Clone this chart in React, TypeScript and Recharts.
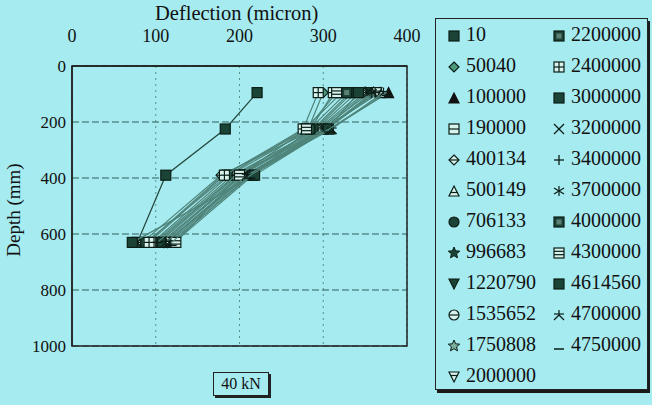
import { ScatterChart, Scatter, XAxis, YAxis, CartesianGrid, ReferenceArea } from "recharts";

// load cycles (legend labels)
const cycles = [
  "10", "50040", "100000", "190000", "400134", "500149", "706133", "996683",
  "1220790", "1535652", "1750808", "2000000", "2200000", "2400000", "3000000",
  "3200000", "3400000", "3700000", "4000000", "4300000", "4614560", "4700000", "4750000",
];

// sensor depths (mm)
const depths = [95, 225, 390, 630];

// deflection (micron) at each depth, one value per load cycle
const defl95 = [221, 300, 378, 312, 335, 368, 340, 350, 356, 346, 360, 364, 322, 294, 332, 352, 362, 358, 328, 316, 342, 372, 376];
const defl225 = [183, 282, 308, 285, 290, 300, 292, 296, 298, 294, 302, 304, 278, 276, 288, 300, 303, 305, 284, 280, 306, 310, 307];
const defl390 = [112, 180, 214, 188, 178, 200, 195, 198, 202, 192, 206, 208, 186, 182, 204, 210, 196, 212, 216, 200, 218, 209, 213];
const defl630 = [78, 90, 118, 96, 84, 108, 100, 104, 110, 98, 112, 114, 88, 92, 106, 116, 102, 120, 122, 124, 72, 112, 119];

const markerKinds = [
  "sq", "diamond", "tri", "sqH", "diamondH", "triH", "circle", "star",
  "triDown", "circleH", "starO", "triDownH", "sqDot", "sqGrid", "sq",
  "cross", "plus", "asterisk", "sqDot", "sqH2", "sq", "ystar", "dash",
];

const xTicks = [0, 100, 200, 300, 400];
const yTicks = [0, 200, 400, 600, 800, 1000];

const BG = "#a6ebf0";
const DARK = "#1c4436";
const EDGE = "#0b1d16";
const LIGHT = "#d8f3ee";
const FONT = "'Liberation Serif', 'DejaVu Serif', serif";

const starPts = (cx: number, cy: number, r: number) => {
  const pts: string[] = [];
  for (let i = 0; i < 10; i++) {
    const a = -Math.PI / 2 + (i * Math.PI) / 5;
    const rr = i % 2 === 0 ? r : r * 0.45;
    pts.push(`${cx + rr * Math.cos(a)},${cy + rr * Math.sin(a)}`);
  }
  return pts.join(" ");
};

const Marker = ({ kind, cx, cy, s = 5 }: { kind: string; cx: number; cy: number; s?: number }) => {
  const sw = 1.2;
  switch (kind) {
    case "sq":
      return <rect x={cx - s} y={cy - s} width={2 * s} height={2 * s} fill={DARK} stroke={EDGE} strokeWidth={sw} />;
    case "sqDot":
      return (
        <g>
          <rect x={cx - s} y={cy - s} width={2 * s} height={2 * s} fill={DARK} stroke={EDGE} strokeWidth={sw} />
          <rect x={cx - s / 2} y={cy - s / 2} width={s} height={s} fill="#5d7f74" />
        </g>
      );
    case "sqH":
      return (
        <g>
          <rect x={cx - s} y={cy - s} width={2 * s} height={2 * s} fill={LIGHT} stroke={EDGE} strokeWidth={sw} />
          <line x1={cx - s} x2={cx + s} y1={cy} y2={cy} stroke={EDGE} strokeWidth={sw} />
        </g>
      );
    case "sqH2":
      return (
        <g>
          <rect x={cx - s} y={cy - s} width={2 * s} height={2 * s} fill={LIGHT} stroke={EDGE} strokeWidth={sw} />
          <line x1={cx - s} x2={cx + s} y1={cy - s / 3} y2={cy - s / 3} stroke={EDGE} strokeWidth={sw} />
          <line x1={cx - s} x2={cx + s} y1={cy + s / 3} y2={cy + s / 3} stroke={EDGE} strokeWidth={sw} />
        </g>
      );
    case "sqGrid":
      return (
        <g>
          <rect x={cx - s} y={cy - s} width={2 * s} height={2 * s} fill={LIGHT} stroke={EDGE} strokeWidth={sw} />
          <line x1={cx - s} x2={cx + s} y1={cy} y2={cy} stroke={EDGE} strokeWidth={sw} />
          <line x1={cx} x2={cx} y1={cy - s} y2={cy + s} stroke={EDGE} strokeWidth={sw} />
        </g>
      );
    case "diamond":
      return <polygon points={`${cx},${cy - s} ${cx + s},${cy} ${cx},${cy + s} ${cx - s},${cy}`} fill="#4a9a7c" stroke={EDGE} strokeWidth={sw} />;
    case "diamondH":
      return (
        <g>
          <polygon points={`${cx},${cy - s} ${cx + s},${cy} ${cx},${cy + s} ${cx - s},${cy}`} fill={LIGHT} stroke={EDGE} strokeWidth={sw} />
          <line x1={cx - s} x2={cx + s} y1={cy} y2={cy} stroke={EDGE} strokeWidth={sw} />
        </g>
      );
    case "tri":
      return <polygon points={`${cx},${cy - s} ${cx + s},${cy + s} ${cx - s},${cy + s}`} fill="#111" stroke="#111" strokeWidth={sw} />;
    case "triH":
      return (
        <g>
          <polygon points={`${cx},${cy - s} ${cx + s},${cy + s} ${cx - s},${cy + s}`} fill={LIGHT} stroke={EDGE} strokeWidth={sw} />
          <line x1={cx - s * 0.7} x2={cx + s * 0.7} y1={cy + s * 0.3} y2={cy + s * 0.3} stroke={EDGE} strokeWidth={sw} />
        </g>
      );
    case "triDown":
      return <polygon points={`${cx - s},${cy - s} ${cx + s},${cy - s} ${cx},${cy + s}`} fill={DARK} stroke={EDGE} strokeWidth={sw} />;
    case "triDownH":
      return (
        <g>
          <polygon points={`${cx - s},${cy - s} ${cx + s},${cy - s} ${cx},${cy + s}`} fill={LIGHT} stroke={EDGE} strokeWidth={sw} />
          <line x1={cx - s * 0.7} x2={cx + s * 0.7} y1={cy - s * 0.3} y2={cy - s * 0.3} stroke={EDGE} strokeWidth={sw} />
        </g>
      );
    case "circle":
      return <circle cx={cx} cy={cy} r={s} fill={DARK} stroke={EDGE} strokeWidth={sw} />;
    case "circleH":
      return (
        <g>
          <circle cx={cx} cy={cy} r={s} fill={LIGHT} stroke={EDGE} strokeWidth={sw} />
          <line x1={cx - s} x2={cx + s} y1={cy} y2={cy} stroke={EDGE} strokeWidth={sw} />
        </g>
      );
    case "star":
      return <polygon points={starPts(cx, cy, s + 1)} fill={DARK} stroke={EDGE} strokeWidth={1} />;
    case "starO":
      return <polygon points={starPts(cx, cy, s + 1)} fill="#7cae9c" stroke={EDGE} strokeWidth={1} />;
    case "cross":
      return (
        <g stroke={EDGE} strokeWidth={1.3}>
          <line x1={cx - s} x2={cx + s} y1={cy - s} y2={cy + s} />
          <line x1={cx - s} x2={cx + s} y1={cy + s} y2={cy - s} />
        </g>
      );
    case "plus":
      return (
        <g stroke={EDGE} strokeWidth={1.3}>
          <line x1={cx - s} x2={cx + s} y1={cy} y2={cy} />
          <line x1={cx} x2={cx} y1={cy - s} y2={cy + s} />
        </g>
      );
    case "asterisk":
      return (
        <g stroke={EDGE} strokeWidth={1.2}>
          <line x1={cx} x2={cx} y1={cy - s} y2={cy + s} />
          <line x1={cx - s} x2={cx + s} y1={cy - s * 0.6} y2={cy + s * 0.6} />
          <line x1={cx - s} x2={cx + s} y1={cy + s * 0.6} y2={cy - s * 0.6} />
        </g>
      );
    case "ystar":
      return (
        <g stroke={EDGE} strokeWidth={1.2}>
          <line x1={cx - s} x2={cx + s} y1={cy - s * 0.2} y2={cy - s * 0.2} />
          <line x1={cx} x2={cx} y1={cy - s} y2={cy} />
          <line x1={cx} x2={cx - s} y1={cy} y2={cy + s} />
          <line x1={cx} x2={cx + s} y1={cy} y2={cy + s} />
        </g>
      );
    case "dash":
      return <line x1={cx - s} x2={cx + s} y1={cy + s * 0.6} y2={cy + s * 0.6} stroke={EDGE} strokeWidth={1.5} />;
    default:
      return <circle cx={cx} cy={cy} r={s} fill={DARK} />;
  }
};

const seriesData = cycles.map((name, i) => ({
  name,
  kind: markerKinds[i],
  points: [defl95[i], defl225[i], defl390[i], defl630[i]].map((d, j) => ({ x: d, y: depths[j] })),
}));

export default function App() {
  return (
    <div style={{ position: "absolute", left: 0, top: 0, width: 652, height: 405, background: BG, fontFamily: FONT, color: "#111", overflow: "hidden" }}>
      <ScatterChart width={652} height={405} margin={{ top: 36, right: 245, bottom: 59, left: 12 }}>
        <CartesianGrid horizontal={false} vertical={true} strokeDasharray="2 4" stroke="#5a8f8c" />
        <CartesianGrid horizontal={true} vertical={false} strokeDasharray="7 3" stroke="#2f5f5c" />
        <XAxis
          type="number"
          dataKey="x"
          orientation="top"
          domain={[0, 400]}
          ticks={xTicks}
          height={30}
          tickSize={0}
          tickMargin={24}
          axisLine={{ stroke: "#222", strokeWidth: 1.5 }}
          tick={{ fontSize: 18, fill: "#111", fontFamily: FONT }}
        />
        <YAxis
          type="number"
          dataKey="y"
          domain={[0, 1000]}
          reversed
          ticks={yTicks}
          width={60}
          tickSize={0}
          tickMargin={6}
          axisLine={{ stroke: "#222", strokeWidth: 1.5 }}
          tick={{ fontSize: 17, fill: "#111", fontFamily: FONT }}
        />
        <ReferenceArea x1={0} x2={400} y1={0} y2={1000} fill="none" stroke="#222" strokeWidth={1.5} ifOverflow="visible" />
        {seriesData.map((s, i) => (
          <Scatter
            key={s.name}
            name={s.name}
            data={s.points}
            line={{ stroke: i === 0 ? "#24463c" : "#4f847a", strokeWidth: 1.2 }}
            isAnimationActive={false}
            shape={(p: any) => <Marker kind={s.kind} cx={p.cx} cy={p.cy} s={5} />}
          />
        ))}
      </ScatterChart>

      <div style={{ position: "absolute", left: 155, top: 2, fontSize: 20.5, whiteSpace: "nowrap" }}>Deflection (micron)</div>
      <div style={{ position: "absolute", left: 14, top: 210, fontSize: 19, whiteSpace: "nowrap", transform: "translate(-50%, -50%) rotate(-90deg)" }}>Depth (mm)</div>

      <div style={{ position: "absolute", left: 213, top: 372, width: 54, height: 22, border: "1px solid #222", boxShadow: "2px 2px 0 #222", fontSize: 16, lineHeight: "22px", textAlign: "center" }}>40 kN</div>

      <div style={{ position: "absolute", left: 435, top: 18, width: 211, height: 370, border: "1px solid #222", boxShadow: "2px 3px 0 #1a1a1a" }}>
        {seriesData.map((s, i) => {
          const col = i < 12 ? 0 : 1;
          const row = i < 12 ? i : i - 12;
          const top = 15 + row * 31;
          return (
            <div key={s.name} style={{ position: "absolute", left: col === 0 ? 8 : 113, top: top - 14, height: 28, display: "flex", alignItems: "center" }}>
              <svg width={20} height={20} style={{ overflow: "visible" }}>
                <Marker kind={s.kind} cx={10} cy={12} s={5} />
              </svg>
              <span style={{ fontSize: 20, marginLeft: 2, lineHeight: "28px" }}>{s.name}</span>
            </div>
          );
        })}
      </div>
    </div>
  );
}
